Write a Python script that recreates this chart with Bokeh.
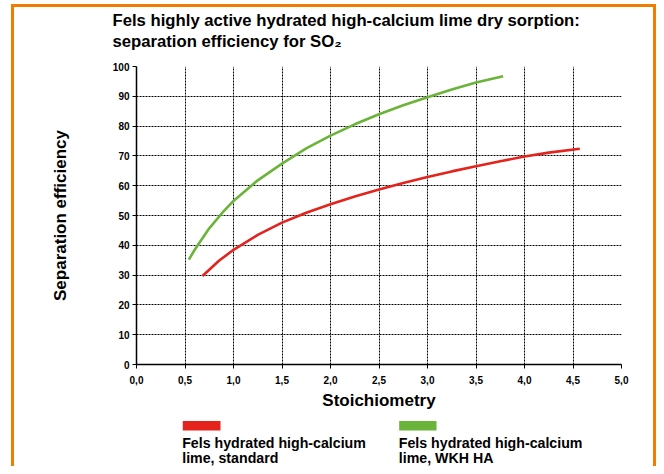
from bokeh.plotting import figure
from bokeh.models import Range1d, FixedTicker, Label, Title
from bokeh.layouts import column
from bokeh.embed import file_html
from bokeh.resources import INLINE

# ---- data ----
std_x = [0.68, 0.75, 0.85, 1.0, 1.25, 1.5, 1.75, 2.0, 2.25, 2.5, 2.75, 3.0, 3.25, 3.5, 3.75, 4.0, 4.25, 4.57]
std_y = [29.7, 31.8, 34.8, 38.5, 43.5, 47.6, 50.9, 53.8, 56.4, 58.7, 60.9, 62.9, 64.8, 66.5, 68.2, 69.8, 71.1, 72.4]
wkh_x = [0.54, 0.6, 0.75, 0.9, 1.0, 1.25, 1.5, 1.75, 2.0, 2.25, 2.5, 2.75, 3.0, 3.25, 3.5, 3.78]
wkh_y = [35.2, 38.5, 45.7, 51.5, 54.9, 61.8, 67.4, 72.5, 76.8, 80.6, 84.0, 87.0, 89.7, 92.3, 94.6, 96.7]

x_ticks = [0.0, 0.5, 1.0, 1.5, 2.0, 2.5, 3.0, 3.5, 4.0, 4.5, 5.0]
x_tick_labels = ["0,0", "0,5", "1,0", "1,5", "2,0", "2,5", "3,0", "3,5", "4,0", "4,5", "5,0"]
y_ticks = [0, 10, 20, 30, 40, 50, 60, 70, 80, 90, 100]

title_lines = ["Fels highly active hydrated high-calcium lime dry sorption:",
               "separation efficiency for SO\u2082"]
x_title = "Stoichiometry"
y_title = "Separation efficiency"
legend_std = ["Fels hydrated high-calcium", "lime, standard"]
legend_wkh = ["Fels hydrated high-calcium", "lime, WKH HA"]

RED = "#E5231D"
GREEN = "#6BB43A"
ORANGE = "#F07D00"
FONT = "Liberation Sans"

W = 656
H_MAIN = 412
H_LEG = 54

p = figure(width=W, height=H_MAIN, output_backend="svg", toolbar_location=None,
           x_range=Range1d(0, 5), y_range=Range1d(0, 100),
           min_border_left=136, min_border_right=W - 621, min_border_top=66,
           min_border_bottom=H_MAIN - 367)
p.border_fill_color = None
p.outline_line_color = None
p.background_fill_color = "white"

p.line(std_x, std_y, color=RED, line_width=2.6)
p.line(wkh_x, wkh_y, color=GREEN, line_width=2.6)

# axes
p.xaxis.ticker = FixedTicker(ticks=x_ticks)
p.xaxis.major_label_overrides = {t: l for t, l in zip(x_ticks, x_tick_labels)}
p.yaxis.ticker = FixedTicker(ticks=y_ticks)
for ax in (p.xaxis, p.yaxis):
    ax.axis_line_color = "black"
    ax.axis_line_width = 1.5
    ax.major_tick_line_color = "black"
    ax.major_tick_out = 4
    ax.major_tick_in = 0
    ax.minor_tick_line_color = None
    ax.major_label_text_font = FONT
    ax.major_label_text_font_style = "bold"
    ax.major_label_text_font_size = "10px"
    ax.major_label_text_color = "black"
    ax.axis_label_text_font = FONT
    ax.axis_label_text_font_style = "bold"
    ax.axis_label_text_color = "black"
    ax.axis_label_text_font_size = "17px"
p.xaxis.major_label_standoff = 7
p.yaxis.major_label_standoff = 3
p.xaxis.axis_label = x_title
p.xaxis.axis_label_standoff = 4
p.yaxis.axis_label = y_title
p.yaxis.axis_label_standoff = 40

for g in (p.xgrid, p.ygrid):
    g.grid_line_color = "black"
    g.grid_line_dash = "2 1"
    g.grid_line_width = 1

# title: two lines; a tiny spacer panel keeps the gap above the frame
p.add_layout(Title(text=" ", text_font_size="1px", standoff=12.6), "above")
p.add_layout(Title(text=title_lines[1], align="left", offset=-24, standoff=0,
                   text_font=FONT, text_font_style="bold", text_font_size="16.7px",
                   text_color="black"), "above")
p.title.text = title_lines[0]
p.title.align = "left"
p.title.offset = -24
p.title.standoff = 0
p.title.text_font = FONT
p.title.text_font_style = "bold"
p.title.text_font_size = "16.7px"
p.title.text_color = "black"

# legend strip below the chart (its frame lines up with the chart frame)
q = figure(width=W, height=H_LEG, output_backend="svg", toolbar_location=None,
           x_range=p.x_range, y_range=Range1d(H_LEG, 0),
           min_border_left=136, min_border_right=W - 621, min_border_top=0,
           min_border_bottom=0, x_axis_type=None, y_axis_type=None)
q.border_fill_color = None
q.background_fill_color = None
q.outline_line_color = None
q.xgrid.visible = False
q.ygrid.visible = False

sw_left = [0.477, 2.708]
sw_right = [0.866, 3.093]
q.quad(left=sw_left, right=sw_right, top=[8.5, 8.5], bottom=[17.9, 17.9],
       fill_color=[RED, GREEN], line_color=None)
for lines, lx in [(legend_std, 0.471), (legend_wkh, 2.704)]:
    for txt, yy in zip(lines, [30.0, 45.0]):
        q.add_layout(Label(x=lx, y=yy, text=txt, text_font=FONT, text_font_style="bold",
                           text_font_size="14.2px", text_color="black",
                           text_baseline="alphabetic"))

layout = column(p, q, spacing=0)
layout.styles = {"box-shadow": (f"inset 11px 0 0 0 #ffffff, inset 0 4px 0 0 #ffffff, "
                                f"inset 14px 0 0 0 {ORANGE}, inset 0 7px 0 0 {ORANGE}, "
                                f"inset -3px 0 0 0 {ORANGE}")}

open("out.html", "w").write(file_html(layout, INLINE))
